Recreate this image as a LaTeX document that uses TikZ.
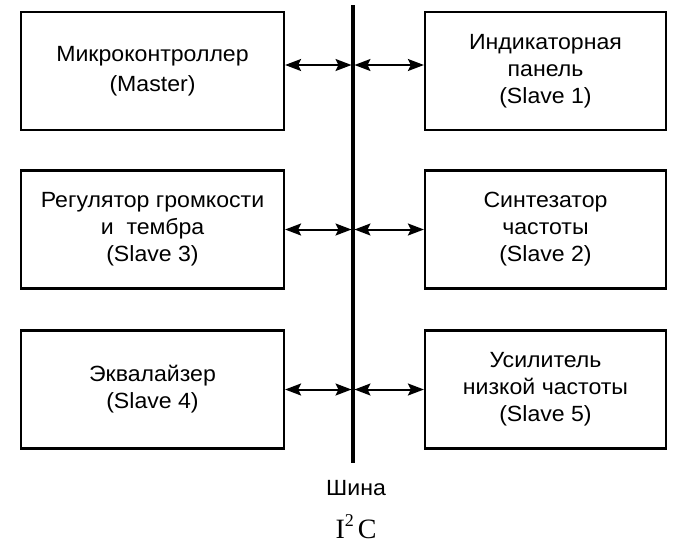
\documentclass[tikz,border=0pt]{standalone}
\usepackage{fontspec}
\setmainfont[FakeStretch=1.05]{Liberation Sans}
\newfontfamily\serifI{Liberation Serif}
\usetikzlibrary{arrows.meta}
\tikzset{
  blk/.style={draw, line width=2.2pt, minimum height=118pt, align=center, inner sep=0pt,
    font=\fontsize{22}{27}\selectfont},
  bigtip/.tip={Stealth[length=16pt,width=12pt,inset=3pt]},
  link/.style={line width=2pt, bigtip-bigtip},
  busline/.style={line width=3.5pt}
}
\begin{document}
\begin{tikzpicture}[x=1pt,y=-1pt]
\useasboundingbox (0,0) rectangle (675,550);
% left boxes
\node[blk, minimum width=263pt, font=\fontsize{22}{30}\selectfont] (m)  at (152.5,71)    {Микроконтроллер\\(Master)};
\node[blk, minimum width=263pt] (s3) at (152.5,229.5) {Регулятор громкости\\и\ \ тембра\\(Slave 3)};
\node[blk, minimum width=263pt] (s4) at (152.5,389.5) {Эквалайзер\\(Slave 4)};
% right boxes
\node[blk, minimum width=241pt] (s1) at (545.5,71)    {Индикаторная\\панель\\(Slave 1)};
\node[blk, minimum width=241pt] (s2) at (545.5,229.5) {Синтезатор\\частоты\\(Slave 2)};
\node[blk, minimum width=241pt] (s5) at (545.5,389.5) {Усилитель\\низкой частоты\\(Slave 5)};
% bus
\coordinate (bt) at (353,5);
\coordinate (bb) at (353,463);
\draw[busline] (bt) -- (bb);
\coordinate (b1) at (353,65);
\coordinate (b2) at (353,229.5);
\coordinate (b3) at (353,389.5);
% links
\draw[link] (m.east |- b1) -- ([xshift=-1.5pt]b1);
\draw[link] ([xshift=1.5pt]b1) -- (s1.west |- b1);
\draw[link] (s3.east |- b2) -- ([xshift=-1.5pt]b2);
\draw[link] ([xshift=1.5pt]b2) -- (s2.west |- b2);
\draw[link] (s4.east |- b3) -- ([xshift=-1.5pt]b3);
\draw[link] ([xshift=1.5pt]b3) -- (s5.west |- b3);
% labels
\node[font=\fontsize{22}{26}\selectfont] (bus) at (356,488) {Шина};
\node[font=\serifI\fontsize{28}{32}\selectfont, anchor=base, inner sep=0pt] (i2c) at (356,538) {I\raisebox{12pt}{\fontsize{18}{18}\selectfont 2}\hspace{4pt}C};
\end{tikzpicture}
\end{document}
